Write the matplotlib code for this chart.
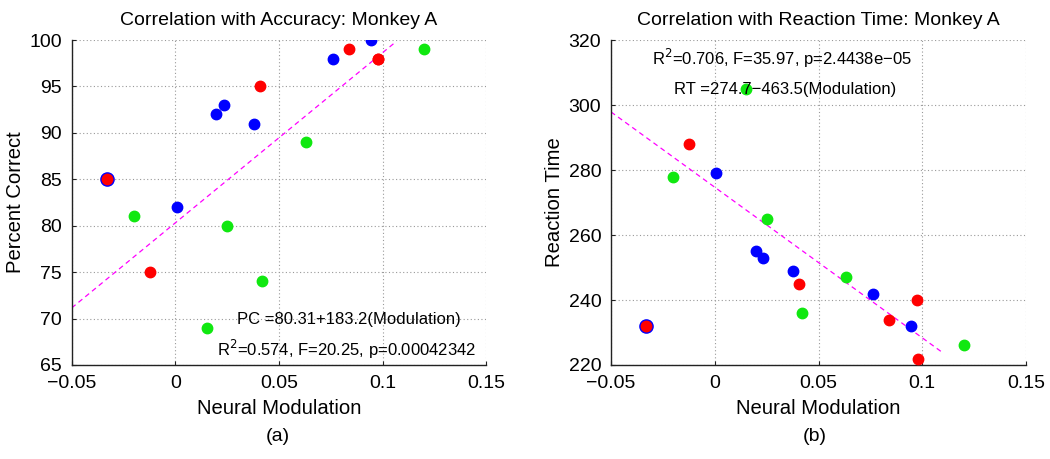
import matplotlib
matplotlib.use('Agg')
import matplotlib.pyplot as plt
import numpy as np

plt.rcParams['font.family'] = ['Liberation Sans', 'DejaVu Sans']

# neural modulation per session, grouped by condition colour
blue_x = [-0.0331, 0.0008, 0.0197, 0.0234, 0.0379, 0.0761, 0.0944]
red_x = [-0.0331, -0.0124, 0.0408, 0.0840, 0.0976, 0.0980]
green_x = [-0.0200, 0.0152, 0.0251, 0.0420, 0.0630, 0.1201]

# percent correct
blue_pc = [85, 82, 92, 93, 91, 98, 100]
red_pc = [85, 75, 95, 99, 98, 98]
green_pc = [81, 69, 80, 74, 89, 99]

# reaction time
blue_rt = [232, 279, 255, 253, 249, 242, 232]
red_rt = [232, 288, 245, 234, 240, 221.7]
green_rt = [278, 305, 265, 236, 247, 226]

# regression fits
pc_icpt, pc_slope = 80.31, 183.2
rt_icpt, rt_slope = 274.7, -463.5
pc_fit_x = [-0.05, 0.106]
rt_fit_x = [-0.05, 0.109]

x_ticks = [-0.05, 0, 0.05, 0.1, 0.15]
x_tick_labels = ['\u22120.05', '0', '0.05', '0.1', '0.15']

fig = plt.figure(figsize=(10.5, 4.59), dpi=100)
ax1 = fig.add_axes([0.0683, 0.2048, 0.3947, 0.708])
ax2 = fig.add_axes([0.5819, 0.2048, 0.3953, 0.708])


def style_axes(ax, ylim, yticks):
    ax.set_xlim(-0.05, 0.15)
    ax.set_ylim(*ylim)
    ax.set_xticks(x_ticks)
    ax.set_xticklabels(x_tick_labels)
    ax.set_yticks(yticks)
    ax.grid(True, color='#999999', linestyle=(0, (1, 2.2)), linewidth=0.8)
    ax.spines['top'].set_visible(False)
    ax.spines['right'].set_visible(False)
    for s in ('left', 'bottom'):
        ax.spines[s].set_linewidth(1.0)
        ax.spines[s].set_color('#222222')
    ax.tick_params(direction='in', length=3, width=0.8, labelsize=14, pad=7,
                   colors='#222222', labelcolor='black')
    ax.set_xlabel('Neural Modulation', fontsize=14.6, labelpad=5)


def draw_points(ax, yb, yr, yg):
    # the first session sits under a larger blue ring
    ax.plot(blue_x[0], yb[0], 'o', color='blue', markersize=9.5, zorder=3)
    ax.plot(blue_x[1:], yb[1:], 'o', color='blue', markersize=7.5, zorder=3, linestyle='none')
    ax.plot(red_x, yr, 'o', color='red', markersize=7.5, zorder=4, linestyle='none')
    ax.plot(green_x, yg, 'o', color='#10e810', markersize=7.5, zorder=3, linestyle='none')


# (a) accuracy
style_axes(ax1, (65, 100), np.arange(65, 101, 5))
draw_points(ax1, blue_pc, red_pc, green_pc)
fx = np.array(pc_fit_x)
ax1.plot(fx, pc_icpt + pc_slope * fx, color='magenta', linestyle=(0, (4, 3)), linewidth=0.9, zorder=2)
ax1.set_ylabel('Percent Correct', fontsize=14.6, labelpad=3)
ax1.set_title('Correlation with Accuracy: Monkey A', fontsize=14, pad=11)
ax1.text(0.0839, 69.9, 'PC =80.31+183.2(Modulation)', fontsize=12, ha='center', va='center', zorder=5)
ax1.text(0.0826, 66.7, 'R$^2$=0.574, F=20.25, p=0.00042342', fontsize=12, ha='center', va='center', zorder=5)

# (b) reaction time
style_axes(ax2, (220, 320), np.arange(220, 321, 20))
draw_points(ax2, blue_rt, red_rt, green_rt)
fx = np.array(rt_fit_x)
ax2.plot(fx, rt_icpt + rt_slope * fx, color='magenta', linestyle=(0, (4, 3)), linewidth=0.9, zorder=2)
ax2.set_ylabel('Reaction Time', fontsize=14.6, labelpad=3)
ax2.set_title('Correlation with Reaction Time: Monkey A', fontsize=14, pad=11)
ax2.text(0.0325, 314.4, 'R$^2$=0.706, F=35.97, p=2.4438e\u221205', fontsize=12, ha='center', va='center', zorder=5)
ax2.text(0.0338, 304.8, 'RT =274.7\u2212463.5(Modulation)', fontsize=12, ha='center', va='center', zorder=5)

fig.text(0.2648, 0.048, '(a)', fontsize=14, ha='center', va='center')
fig.text(0.776, 0.048, '(b)', fontsize=14, ha='center', va='center')

fig.savefig('out.png', dpi=100)
